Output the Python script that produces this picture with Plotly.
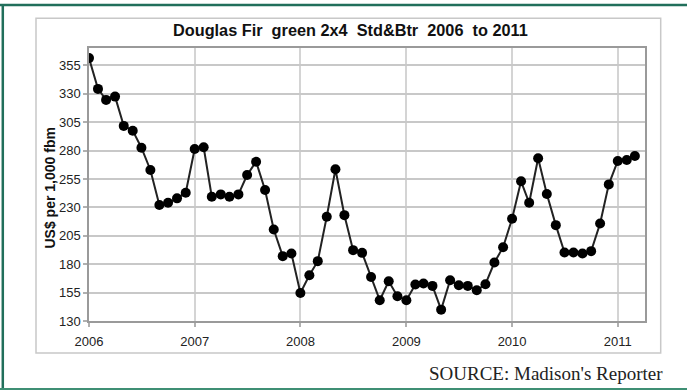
import plotly.graph_objects as go

# Monthly prices, Jan 2006 - Mar 2011 (US$ per 1,000 fbm)
months = [f"{y}-{m:02d}-01" for y in range(2006, 2012) for m in range(1, 13)][:63]
price_2006 = [361.5, 334.4, 324.7, 327.6, 301.8, 297.6, 282.6, 263.0, 232.1, 234.1, 238.0, 243.0]
price_2007 = [281.5, 283.0, 239.4, 241.5, 239.4, 241.5, 258.5, 270.3, 245.3, 210.6, 187.1, 189.4]
price_2008 = [154.7, 170.3, 182.7, 221.8, 263.6, 223.2, 192.4, 190.0, 168.8, 148.3, 165.0, 151.8]
price_2009 = [148.3, 162.1, 163.0, 160.9, 140.0, 165.9, 161.5, 160.9, 157.1, 162.4, 181.5, 195.0]
price_2010 = [220.0, 253.0, 234.1, 273.3, 241.8, 214.4, 190.3, 190.3, 189.4, 191.5, 215.9, 250.3]
price_2011 = [270.9, 271.8, 275.3]
prices = price_2006 + price_2007 + price_2008 + price_2009 + price_2010 + price_2011

title_text = "Douglas Fir\u00a0 green 2x4\u00a0 Std&Btr\u00a0 2006\u00a0 to 2011"
y_title = "US$ per 1,000 fbm"
source_text = "SOURCE: Madison's Reporter"

W, H = 687, 391
L, R, T, B = 89, 42, 48, 70
PW, PH = W - L - R, H - T - B


def px(x):
    return (x - L) / PW


def py(y):
    return (H - B - y) / PH


fig = go.Figure()
fig.add_trace(go.Scatter(
    x=months, y=prices, mode="lines+markers",
    line=dict(color="#222222", width=2),
    marker=dict(color="#000000", size=10, line=dict(width=0)),
    showlegend=False,
))

axis_font = dict(family="Liberation Sans, Arial, sans-serif", size=13, color="#222222")

fig.update_xaxes(
    type="date", range=["2006-01-01", "2011-04-05"],
    tick0="2006-01-01", dtick="M12", tickformat="%Y",
    showgrid=True, gridcolor="#d4d4d4", gridwidth=1.5,
    showline=True, linecolor="#9a9a9a", linewidth=1.5, mirror=True,
    ticks="outside", ticklen=4, tickcolor="#b0b0b0", tickwidth=1.5,
    tickfont=axis_font, ticklabelstandoff=4, zeroline=False,
)
fig.update_yaxes(
    range=[130, 370.4], tick0=130, dtick=25,
    showgrid=True, gridcolor="#c8c8c8", gridwidth=1.5,
    showline=True, linecolor="#9a9a9a", linewidth=1.5, mirror=True,
    ticks="outside", ticklen=4, tickcolor="#b0b0b0", tickwidth=1.5,
    tickfont=axis_font, zeroline=False,
)

shapes = [
    # chart area frame
    dict(type="rect", xref="paper", yref="paper",
         x0=px(36), x1=px(660.7), y0=py(353), y1=py(18.3),
         line=dict(color="#c8c8c8", width=1.5), layer="below"),
    # green page border
    dict(type="line", xref="paper", yref="paper",
         x0=px(2.8), x1=px(2.8), y0=py(5), y1=py(389),
         line=dict(color="#216f5b", width=2.5)),
    dict(type="line", xref="paper", yref="paper",
         x0=px(0), x1=px(687), y0=py(5), y1=py(5),
         line=dict(color="#216f5b", width=2.5)),
    dict(type="line", xref="paper", yref="paper",
         x0=px(0), x1=px(687), y0=py(389), y1=py(389),
         line=dict(color="#3f8f74", width=2)),
]

annotations = [
    dict(text="<b>" + title_text + "</b>", xref="paper", yref="paper", x=px(350), y=py(30),
         xanchor="center", yanchor="middle", showarrow=False,
         font=dict(family="Liberation Sans, Arial, sans-serif", size=16.3, color="#111111")),
    dict(text="<b>" + y_title + "</b>", xref="paper", yref="paper", x=px(49), y=py(188.5),
         xanchor="center", yanchor="middle", showarrow=False, textangle=-90,
         font=dict(family="Liberation Sans, Arial, sans-serif", size=14, color="#111111")),
    dict(text=source_text, xref="paper", yref="paper", x=px(665), y=py(373),
         xanchor="right", yanchor="middle", showarrow=False,
         font=dict(family="Liberation Serif, Times New Roman, serif", size=19, color="#222222")),
]

fig.update_layout(
    width=W, height=H,
    margin=dict(l=L, r=R, t=T, b=B),
    paper_bgcolor="white", plot_bgcolor="white",
    shapes=shapes, annotations=annotations,
)

fig.write_html("out.html")
